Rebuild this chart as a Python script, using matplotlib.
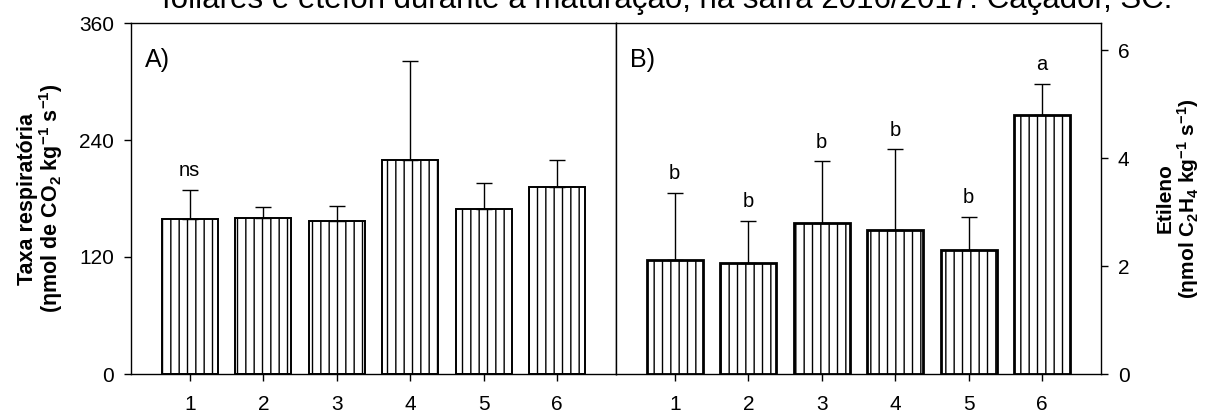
import numpy as np
import matplotlib
matplotlib.use("Agg")
import matplotlib.pyplot as plt

plt.rcParams['font.family'] = ['Liberation Sans', 'DejaVu Sans']
plt.rcParams['mathtext.fontset'] = 'custom'
plt.rcParams['mathtext.rm'] = 'Liberation Sans:bold'
plt.rcParams['mathtext.it'] = 'Liberation Sans:bold'
plt.rcParams['mathtext.bf'] = 'Liberation Sans:bold'
plt.rcParams['hatch.linewidth'] = 1.0

# treatments 1..6
trat = [1, 2, 3, 4, 5, 6]

# A) taxa respiratoria (mean and upper error)
resp = [159, 160, 157, 220, 169, 192]
resp_err = [30, 11, 15, 101, 27, 28]
resp_letras = ['ns', '', '', '', '', '']

# B) etileno
etil = [2.12, 2.06, 2.80, 2.67, 2.29, 4.80]
etil_err = [1.23, 0.77, 1.14, 1.49, 0.62, 0.57]
etil_letras = ['b', 'b', 'b', 'b', 'b', 'a']

titulo = "foliares e etefon durante a maturação, na safra 2016/2017. Caçador, SC."

fig = plt.figure(figsize=(12.06, 4.12), dpi=100)
axA = fig.add_axes([131 / 1206, 1 - 374 / 412, 485 / 1206, 351 / 412])
axB = fig.add_axes([616 / 1206, 1 - 374 / 412, 485 / 1206, 351 / 412])

x = np.array(trat)


def barras(ax, vals, errs, letras, lw):
    ax.bar(x, vals, width=0.76, color='white', edgecolor='black',
           linewidth=lw, hatch='||', zorder=2)
    ax.errorbar(x, vals, yerr=[np.zeros(len(errs)), errs], fmt='none',
                ecolor='black', elinewidth=1.0, capsize=6, capthick=1.0, zorder=3)
    for xi, v, e, t in zip(x, vals, errs, letras):
        if t:
            ax.annotate(t, (xi, v + e), xytext=(0, 7), textcoords='offset points',
                        ha='center', va='bottom', fontsize=14.5)
    ax.set_xlim(0.2, 6.8)
    ax.set_xticks(x)
    ax.tick_params(axis='both', direction='out', length=5, width=1,
                   labelsize=15, pad=7)
    ax.tick_params(axis='x', pad=10)
    for s in ax.spines.values():
        s.set_linewidth(1.0)


barras(axA, resp, resp_err, resp_letras, 1.4)
axA.set_ylim(0, 360)
axA.set_yticks([0, 120, 240, 360])
axA.set_ylabel('Taxa respiratória\n(ηmol de CO$_2$ kg$^{-1}$ s$^{-1}$)',
               fontsize=15.5, fontweight='bold', labelpad=10, linespacing=1.0)
axA.text(0.028, 0.93, 'A)', transform=axA.transAxes, fontsize=18,
         ha='left', va='top')

barras(axB, etil, etil_err, etil_letras, 2.0)
axB.set_ylim(0, 6.5)
axB.set_yticks([0, 2, 4, 6])
axB.yaxis.tick_right()
axB.yaxis.set_label_position('right')
axB.set_ylabel('Etileno\n(ηmol C$_2$H$_4$ kg$^{-1}$ s$^{-1}$)',
               fontsize=15, fontweight='bold', labelpad=19, linespacing=1.0,
               rotation=90)
axB.text(0.028, 0.93, 'B)', transform=axB.transAxes, fontsize=18,
         ha='left', va='top')

fig.text(162 / 1206, 1 - 8 / 412, titulo, fontsize=22.5, ha='left',
         va='baseline')

fig.savefig('out.png', dpi=100)
